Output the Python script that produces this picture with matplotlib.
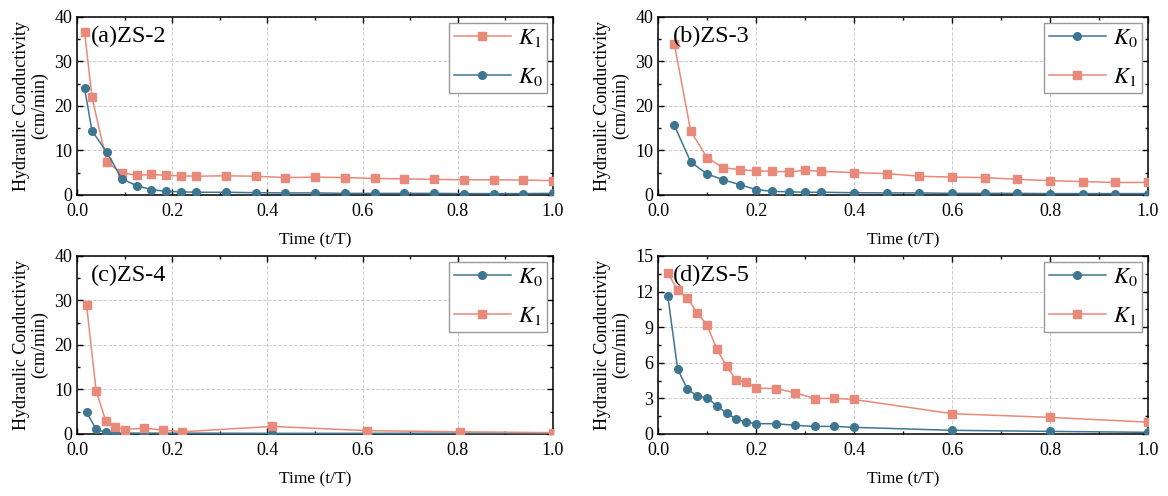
import matplotlib.pyplot as plt
from matplotlib.ticker import MultipleLocator

plt.rcParams['font.family'] = ['Liberation Serif', 'DejaVu Serif']
plt.rcParams['mathtext.fontset'] = 'stix'

# -------- datos --------
# (a) ZS-2
xa = [0.0156, 0.03125, 0.0625, 0.09375, 0.125, 0.15625, 0.1875, 0.21875, 0.25,
      0.3125, 0.375, 0.4375, 0.5, 0.5625, 0.625, 0.6875, 0.75, 0.8125, 0.875, 0.9375, 1.0]
a_k1 = [36.7, 22.0, 7.3, 5.0, 4.4, 4.6, 4.4, 4.3, 4.2,
        4.3, 4.2, 3.9, 4.0, 3.9, 3.7, 3.6, 3.5, 3.4, 3.4, 3.35, 3.2]
a_k0 = [24.0, 14.4, 9.6, 3.6, 2.1, 1.2, 0.8, 0.7, 0.6,
        0.6, 0.5, 0.45, 0.45, 0.35, 0.35, 0.35, 0.35, 0.3, 0.3, 0.3, 0.35]

# (b) ZS-3
xb = [0.0333, 0.0667, 0.1, 0.1333, 0.1667, 0.2, 0.2333, 0.2667, 0.3, 0.3333,
      0.4, 0.4667, 0.5333, 0.6, 0.6667, 0.7333, 0.8, 0.8667, 0.9333, 1.0]
b_k0 = [15.6, 7.4, 4.7, 3.4, 2.3, 1.2, 0.8, 0.7, 0.6, 0.6,
        0.5, 0.45, 0.45, 0.35, 0.35, 0.35, 0.3, 0.3, 0.3, 0.3]
b_k1 = [33.9, 14.3, 8.4, 6.1, 5.7, 5.4, 5.3, 5.2, 5.5, 5.3,
        5.0, 4.8, 4.2, 4.0, 3.9, 3.5, 3.2, 3.0, 2.8, 2.8]

# (c) ZS-4
xc = [0.02, 0.04, 0.06, 0.08, 0.1, 0.14, 0.18, 0.22, 0.41, 0.61, 0.805, 1.0]
c_k0 = [4.9, 1.05, 0.4, 0.25, 0.2, 0.2, 0.2, 0.2, 0.15, 0.15, 0.2, 0.2]
c_k1 = [28.9, 9.7, 3.0, 1.6, 1.0, 1.3, 0.9, 0.5, 1.7, 0.75, 0.5, 0.3]

# (d) ZS-5
xd = [0.02, 0.04, 0.06, 0.08, 0.1, 0.12, 0.14, 0.16, 0.18, 0.2,
      0.24, 0.28, 0.32, 0.36, 0.4, 0.6, 0.8, 1.0]
d_k0 = [11.6, 5.46, 3.78, 3.19, 3.05, 2.38, 1.74, 1.26, 0.98, 0.87,
        0.87, 0.73, 0.64, 0.64, 0.56, 0.31, 0.22, 0.14]
d_k1 = [13.55, 12.15, 11.45, 10.2, 9.18, 7.14, 5.71, 4.53, 4.39, 3.86,
        3.83, 3.47, 2.99, 3.0, 2.91, 1.71, 1.40, 1.0]

titulos = ['(a)ZS-2', '(b)ZS-3', '(c)ZS-4', '(d)ZS-5']

c0 = '#3e7691'
c1 = '#e8897a'

fig = plt.figure(figsize=(11.68, 4.96), dpi=100)
pos = [[0.066, 0.607, 0.4075, 0.359],
       [0.5634, 0.607, 0.4195, 0.359],
       [0.066, 0.125, 0.4075, 0.359],
       [0.5634, 0.125, 0.4195, 0.359]]

paneles = [
    (xa, a_k0, a_k1, 40, 10, True),
    (xb, b_k0, b_k1, 40, 10, False),
    (xc, c_k0, c_k1, 40, 10, False),
    (xd, d_k0, d_k1, 15, 3, False),
]

for i, (x, k0, k1, ymax, paso, k1_primero) in enumerate(paneles):
    ax = fig.add_axes(pos[i])
    if k1_primero:
        ax.plot(x, k1, color=c1, marker='s', ms=5.5, lw=1.1, label='$K_1$', zorder=3)
        ax.plot(x, k0, color=c0, marker='o', ms=5.5, lw=1.1, label='$K_0$', zorder=3)
    else:
        ax.plot(x, k0, color=c0, marker='o', ms=5.5, lw=1.1, label='$K_0$', zorder=3)
        ax.plot(x, k1, color=c1, marker='s', ms=5.5, lw=1.1, label='$K_1$', zorder=3)
    ax.set_xlim(0, 1.0)
    ax.set_ylim(0, ymax)
    ax.xaxis.set_major_locator(MultipleLocator(0.2))
    ax.xaxis.set_minor_locator(MultipleLocator(0.1))
    ax.yaxis.set_major_locator(MultipleLocator(paso))
    ax.yaxis.set_minor_locator(MultipleLocator(paso / 2))
    ax.xaxis.set_major_formatter(plt.FormatStrFormatter('%.1f'))
    ax.tick_params(which='both', direction='in', top=True, right=True, labelsize=13)
    ax.tick_params(which='major', length=4, width=1)
    ax.tick_params(which='minor', length=2.5, width=1)
    ax.tick_params(axis='x', pad=6)
    for s in ax.spines.values():
        s.set_linewidth(1.1)
    ax.grid(True, which='major', ls='--', color='#cccccc', lw=0.7)
    ax.set_xlabel('Time (t/T)', fontsize=12.5, labelpad=9)
    ax.set_ylabel('Hydraulic Conductivity\n(cm/min)', fontsize=13, labelpad=4,
                  linespacing=1.1)
    ax.text(0.03, 0.95, titulos[i], transform=ax.transAxes, fontsize=17.5,
            va='top', ha='left')
    leg = ax.legend(loc='upper right', fontsize=16.5, fancybox=False, framealpha=1,
                    edgecolor='#999999', handlelength=2.5, borderaxespad=0.25,
                    labelspacing=0.75, handletextpad=0.3, borderpad=0.2)
    leg.get_frame().set_linewidth(1.0)

fig.savefig('out.png', dpi=100)
